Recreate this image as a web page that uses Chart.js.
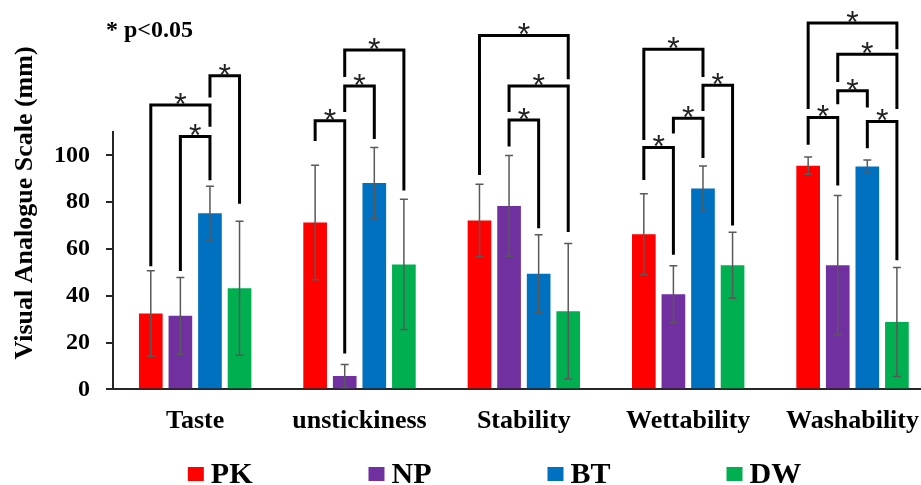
<!DOCTYPE html>
<html>
<head>
<meta charset="utf-8">
<script src="https://cdn.jsdelivr.net/npm/chart.js@4.4.1/dist/chart.umd.min.js"></script>
<style>
  html, body { margin: 0; padding: 0; background: #fff; overflow: hidden; }
  #wrap { width: 921px; height: 485px; overflow: hidden; }
  canvas { display: block; }
</style>
</head>
<body>
<div id="wrap"><canvas id="vasChart" width="935" height="485"></canvas></div>
<script>
// Visual analogue scale scores per property, mean and SD for each group
const categories = ['Taste', 'unstickiness', 'Stability', 'Wettability', 'Washability'];

const pkMean = [32.4, 71.3, 72.2, 66.3, 95.6];
const pkSd   = [18.3, 24.5, 15.5, 17.3, 3.7];
const npMean = [31.4, 5.7, 78.4, 40.6, 53.0];
const npSd   = [16.4, 4.9, 21.5, 12.2, 29.8];
const btMean = [75.3, 88.2, 49.4, 85.8, 95.2];
const btSd   = [11.5, 15.2, 16.7, 9.7, 2.8];
const dwMean = [43.2, 53.4, 33.4, 53.0, 28.8];
const dwSd   = [28.6, 27.8, 28.9, 14.1, 23.3];

const yTicks = [0, 20, 40, 60, 80, 100];

// significant pairs: [category, group A, group B, bracket height, leg A end, leg B end]
// groups: 0 PK, 1 NP, 2 BT, 3 DW (heights in scale units)
const sigPairs = [
  [0, 0, 2, 121.5, 52.6, 112.2],
  [0, 1, 2, 108.1, 50.6, 89.4],
  [0, 2, 3, 134.1, 124.7, 79.3],
  [1, 0, 1, 114.8, 106.1, 15.3],
  [1, 1, 2, 129.7, 118.6, 107.0],
  [1, 1, 3, 145.1, 133.5, 85.0],
  [2, 0, 3, 151.3, 91.6, 132.6],
  [2, 1, 3, 129.7, 118.6, 67.2],
  [2, 1, 2, 115.1, 103.8, 68.9],
  [3, 0, 2, 145.4, 106.6, 133.5],
  [3, 2, 3, 130.0, 119.0, 70.0],
  [3, 1, 2, 115.9, 109.4, 98.9],
  [3, 0, 1, 103.4, 89.5, 57.5],
  [4, 0, 3, 156.6, 119.8, 145.4],
  [4, 1, 3, 143.2, 131.4, 119.8],
  [4, 1, 2, 127.6, 121.9, 120.5],
  [4, 0, 1, 116.2, 104.6, 87.1],
  [4, 2, 3, 114.5, 103.0, 55.2]
];

const SERIF = '"Liberation Serif", "Times New Roman", serif';

// error bars (mean +/- SD)
const errorBars = {
  id: 'errorBars',
  afterDatasetsDraw(chart) {
    const ctx = chart.ctx;
    const y = chart.scales.y;
    ctx.save();
    ctx.strokeStyle = '#595959';
    ctx.lineWidth = 1.5;
    chart.data.datasets.forEach((ds, i) => {
      chart.getDatasetMeta(i).data.forEach((bar, j) => {
        const top = y.getPixelForValue(ds.data[j] + ds.errors[j]);
        const bot = y.getPixelForValue(Math.max(0, ds.data[j] - ds.errors[j]));
        ctx.beginPath();
        ctx.moveTo(bar.x, top);
        ctx.lineTo(bar.x, bot);
        ctx.moveTo(bar.x - 4, top);
        ctx.lineTo(bar.x + 4, top);
        ctx.moveTo(bar.x - 4, bot);
        ctx.lineTo(bar.x + 4, bot);
        ctx.stroke();
      });
    });
    ctx.restore();
  }
};

// significance brackets with asterisks
const sigBrackets = {
  id: 'sigBrackets',
  afterDraw(chart) {
    const ctx = chart.ctx;
    const y = chart.scales.y;
    ctx.save();
    ctx.strokeStyle = '#000';
    ctx.lineWidth = 3;
    ctx.lineJoin = 'miter';
    ctx.fillStyle = '#222';
    ctx.font = '32px "Liberation Sans", Arial, sans-serif';
    ctx.textAlign = 'center';
    sigPairs.forEach(([cat, a, b, top, endA, endB]) => {
      const xa = chart.getDatasetMeta(a).data[cat].x;
      const xb = chart.getDatasetMeta(b).data[cat].x;
      const yt = y.getPixelForValue(top);
      ctx.beginPath();
      ctx.moveTo(xa, y.getPixelForValue(endA));
      ctx.lineTo(xa, yt);
      ctx.lineTo(xb, yt);
      ctx.lineTo(xb, y.getPixelForValue(endB));
      ctx.stroke();
      ctx.fillText('*', (xa + xb) / 2, yt + 10);
    });
    ctx.restore();
  }
};

// axis title, p-value note and the legend row
const extras = {
  id: 'extras',
  afterDraw(chart) {
    const ctx = chart.ctx;
    ctx.save();
    ctx.fillStyle = '#000';

    ctx.font = 'bold 24px ' + SERIF;
    ctx.textAlign = 'left';
    ctx.textBaseline = 'alphabetic';
    ctx.fillText('* p<0.05', 106, 37);

    ctx.save();
    ctx.translate(32, 203);
    ctx.rotate(-Math.PI / 2);
    ctx.font = 'bold 26px ' + SERIF;
    ctx.textAlign = 'center';
    ctx.fillText('Visual Analogue Scale (mm)', 0, 0);
    ctx.restore();

    ctx.font = 'bold 30px ' + SERIF;
    const items = chart.data.datasets.map(ds => ({
      label: ds.label,
      color: ds.backgroundColor,
      w: ctx.measureText(ds.label).width
    }));
    const box = 16, gap = 7, spacing = 116;
    const total = items.reduce((s, it) => s + box + gap + it.w, 0) + spacing * (items.length - 1);
    let x = 494.5 - total / 2;
    items.forEach(it => {
      ctx.fillStyle = it.color;
      ctx.fillRect(x, 467, box, 14);
      ctx.fillStyle = '#000';
      ctx.fillText(it.label, x + box + gap, 483);
      x += box + gap + it.w + spacing;
    });
    ctx.restore();
  }
};

function makeDataset(label, color, data, errors) {
  return {
    label: label,
    data: data,
    errors: errors,
    backgroundColor: color,
    borderWidth: 0,
    categoryPercentage: 0.72,
    barPercentage: 0.8
  };
}

const ctx = document.getElementById('vasChart').getContext('2d');
new Chart(ctx, {
  type: 'bar',
  data: {
    labels: categories,
    datasets: [
      makeDataset('PK', '#FF0000', pkMean, pkSd),
      makeDataset('NP', '#7030A0', npMean, npSd),
      makeDataset('BT', '#0070C0', btMean, btSd),
      makeDataset('DW', '#00B050', dwMean, dwSd)
    ]
  },
  options: {
    responsive: false,
    animation: false,
    devicePixelRatio: 1,
    layout: { padding: { top: 132, left: 0, right: 0, bottom: 0 } },
    plugins: {
      legend: { display: false },
      tooltip: { enabled: false }
    },
    scales: {
      x: {
        grid: { display: false, drawTicks: false },
        border: { display: true, color: '#262626', width: 2 },
        ticks: {
          color: '#000',
          font: { family: SERIF, size: 26, weight: 'bold' },
          padding: 16,
          maxRotation: 0,
          autoSkip: false
        },
        afterFit(scale) { scale.height = 95.7; }
      },
      y: {
        min: 0,
        max: 110,
        afterBuildTicks(scale) {
          scale.ticks = yTicks.map(v => ({ value: v }));
        },
        ticks: {
          color: '#000',
          font: { family: SERIF, size: 24, weight: 'bold' },
          padding: 16
        },
        grid: { drawOnChartArea: false, drawTicks: true, tickLength: 7, color: '#262626', lineWidth: 2 },
        border: { display: true, color: '#262626', width: 2 },
        afterFit(scale) { scale.width = 113; }
      }
    }
  },
  plugins: [errorBars, sigBrackets, extras]
});
</script>
</body>
</html>
